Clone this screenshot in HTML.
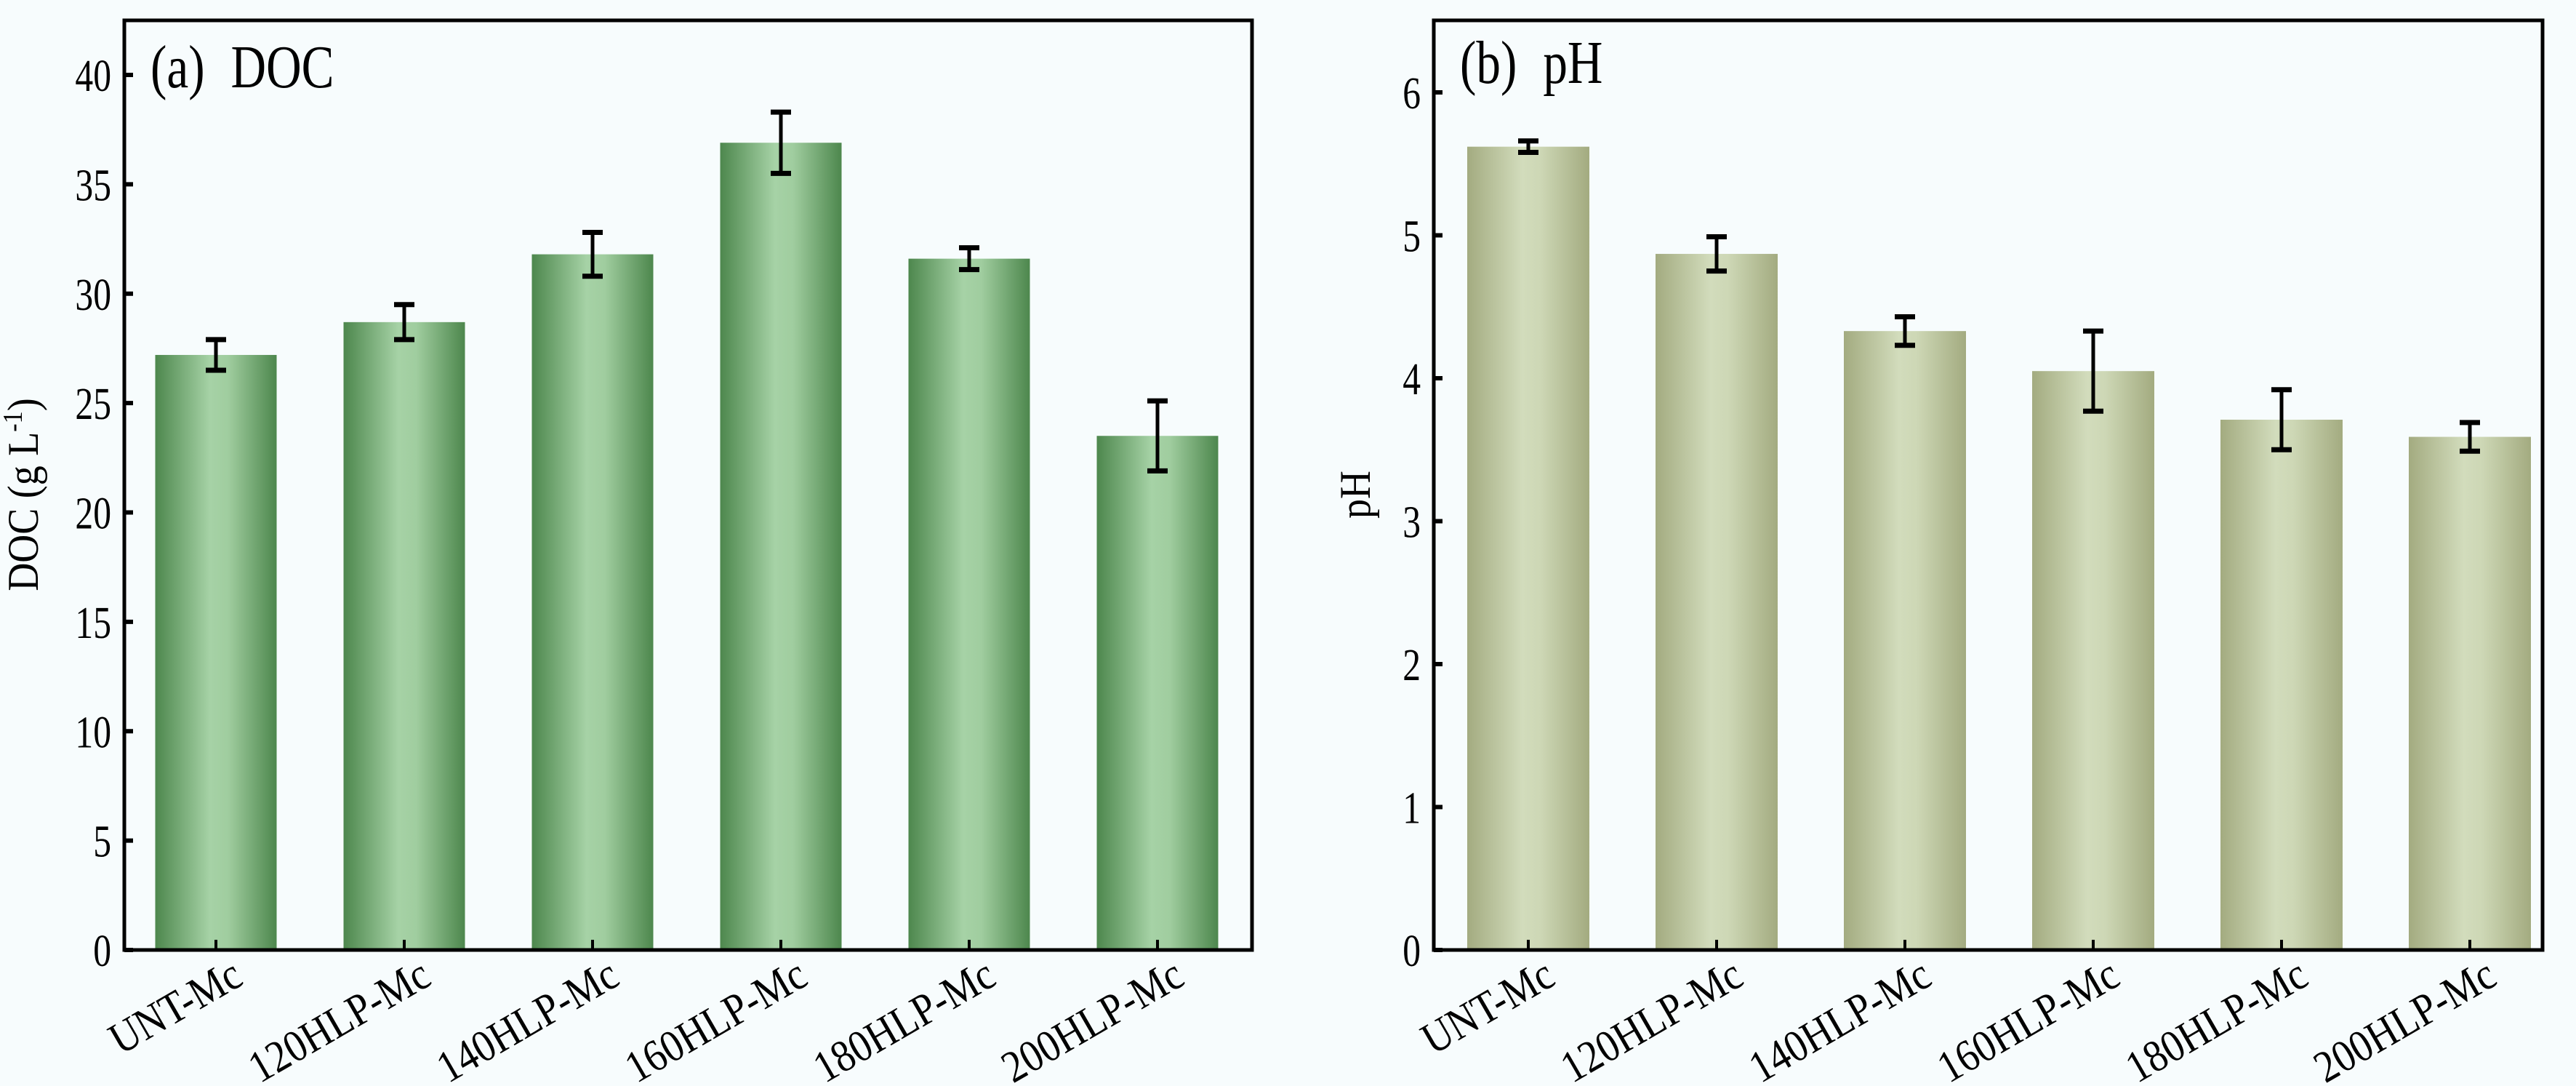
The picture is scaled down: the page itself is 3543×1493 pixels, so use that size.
<!DOCTYPE html>
<html><head><meta charset="utf-8"><style>
html,body{margin:0;padding:0;background:#f7fcfd;}
svg{display:block;font-family:"Liberation Serif","Times New Roman",serif;}
</style></head><body>
<svg id="chart" width="3543" height="1493" viewBox="0 0 3543 1493">
<defs>
<linearGradient id="ga" x1="0" x2="1" y1="0" y2="0">
<stop offset="0" stop-color="#4d874d"/><stop offset="0.45" stop-color="#a6d2a6"/><stop offset="0.6" stop-color="#a0cd9f"/><stop offset="1" stop-color="#4d874d"/></linearGradient>
<linearGradient id="gb" x1="0" x2="1" y1="0" y2="0">
<stop offset="0" stop-color="#a3ab80"/><stop offset="0.45" stop-color="#d2dcbc"/><stop offset="0.6" stop-color="#cdd7b5"/><stop offset="1" stop-color="#a3ab80"/></linearGradient>
</defs>
<g id="pa"></g>
<g id="pb"></g>
</svg>
<script>
const categories=["UNT-Mc","120HLP-Mc","140HLP-Mc","160HLP-Mc","180HLP-Mc","200HLP-Mc"];
const docValues=[27.2,28.7,31.8,36.9,31.6,23.5];
const docErrors=[0.7,0.8,1.0,1.4,0.5,1.6];
const docTicks=[0,5,10,15,20,25,30,35,40];
const phValues=[5.62,4.87,4.33,4.05,3.71,3.59];
const phErrors=[0.04,0.12,0.10,0.28,0.21,0.10];
const phTicks=[0,1,2,3,4,5,6];
const NS="http://www.w3.org/2000/svg";
function mk(parent,tag,attrs){const e=document.createElementNS(NS,tag);for(const k in attrs)e.setAttribute(k,attrs[k]);parent.appendChild(e);return e;}
function panel(g,cfg){
  const y=v=>cfg.y0-(v-0)*(cfg.y0-cfg.yTop)/cfg.vTop;
  const xc=i=>cfg.x0+cfg.first+i*cfg.step;
  cfg.values.forEach((v,i)=>{
    const r=mk(g,'rect',{x:xc(i)-cfg.bw/2,y:y(v),width:cfg.bw,height:cfg.y0-y(v),fill:cfg.fill});
    
    
    const e=cfg.errors[i],cx=xc(i);
    const eb=mk(g,'g',{stroke:'#000','stroke-width':5});
    
    
    mk(eb,'line',{x1:cx,x2:cx,y1:y(v-e),y2:y(v+e)});
    mk(eb,'line',{x1:cx-14,x2:cx+14,y1:y(v-e),y2:y(v-e),'stroke-width':7});
    mk(eb,'line',{x1:cx-14,x2:cx+14,y1:y(v+e),y2:y(v+e),'stroke-width':7});
    const tk=mk(g,'line',{x1:cx,x2:cx,y1:cfg.y0,y2:cfg.y0-14,stroke:'#000','stroke-width':4});
    
    
    const t=mk(g,'text',{x:0,y:0,'font-size':62,'text-anchor':'end',transform:`translate(${cx+40} 1352) rotate(-30) scale(0.88 1)`});
    
    
    t.textContent=categories[i];
  });
  const fr=mk(g,'rect',{x:cfg.x0,y:cfg.yTop0,width:cfg.x1-cfg.x0,height:cfg.y0-cfg.yTop0,fill:'none',stroke:'#000','stroke-width':5});
  
  
  cfg.ticks.forEach(v=>{
    const tk=mk(g,'line',{x1:cfg.x0,x2:cfg.x0+12,y1:y(v),y2:y(v),stroke:'#000','stroke-width':6});
    
    
    const t=mk(g,'text',{x:0,y:0,'font-size':62,'text-anchor':'end',transform:`translate(${cfg.x0-18} ${y(v)+22}) scale(0.8 1)`});
    
    
    t.textContent=v;
  });
  const ti=mk(g,'text',{x:0,y:0,'font-size':84,transform:`translate(${cfg.x0+36} ${cfg.titleY}) scale(0.8 1)`});
  
  
  ti.innerHTML=cfg.title;
  const yt=mk(g,'text',{x:0,y:0,'font-size':60,'text-anchor':'middle',transform:`translate(${cfg.ytx} 680) rotate(-90) scale(0.9 1)`});
  
  
  yt.innerHTML=cfg.ytitle;
}
panel(document.getElementById('pa'),{x0:171,x1:1722,y0:1306,yTop0:28,yTop:103,vTop:40,first:126,step:259,bw:167,fill:'url(#ga)',values:docValues,errors:docErrors,ticks:docTicks,title:'(a)<tspan dx="45">DOC</tspan>',titleY:120,ytx:52,ytitle:'DOC (g L<tspan dy="-22" font-size="38">-1</tspan><tspan dy="22">)</tspan>'});
panel(document.getElementById('pb'),{x0:1972,x1:3497,y0:1306,yTop0:28,yTop:127,vTop:6,first:130,step:259,bw:168,fill:'url(#gb)',values:phValues,errors:phErrors,ticks:phTicks,title:'(b)<tspan dx="45">pH</tspan>',titleY:114,ytx:1884,ytitle:'pH'});
</script>
</body></html>
